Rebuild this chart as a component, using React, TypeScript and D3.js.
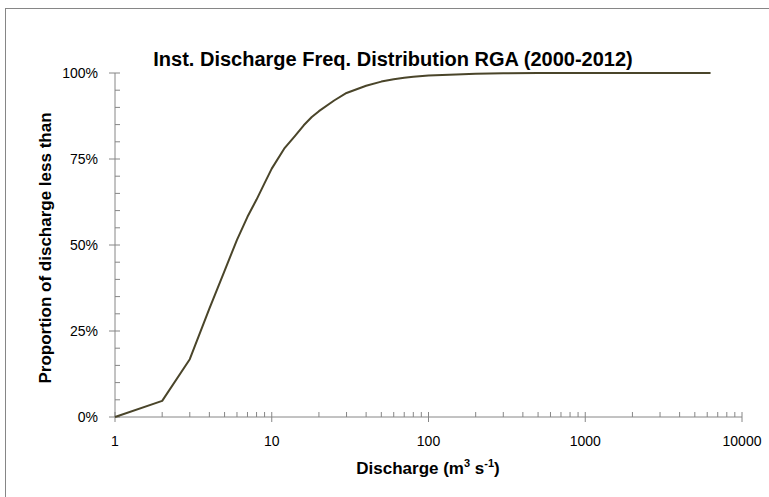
import * as d3 from "d3";

// discharge (m3/s) and cumulative proportion
const discharge = [1, 2, 3, 4, 5, 6, 7, 8, 9, 10, 12, 14, 16, 18, 20, 25, 30, 40, 50, 60, 70, 80, 100, 150, 200, 300, 500, 1000, 2000, 6300];
const proportion = [0, 0.047, 0.168, 0.315, 0.425, 0.515, 0.582, 0.632, 0.68, 0.722, 0.78, 0.816, 0.848, 0.872, 0.889, 0.92, 0.942, 0.963, 0.975, 0.982, 0.986, 0.989, 0.993, 0.996, 0.998, 0.999, 1, 1, 1, 1];

const xTicks = [1, 10, 100, 1000, 10000];
const yTicks = [0, 0.25, 0.5, 0.75, 1];

const App = () => {
  const width = 769;
  const height = 497;
  const margin = { top: 73, right: 27, bottom: 80, left: 115 };
  const axisColor = "#868686";
  const font = "'Liberation Sans', Arial, sans-serif";

  const x = d3.scaleLog().domain([1, 10000]).range([margin.left, width - margin.right]);
  const y = d3.scaleLinear().domain([0, 1]).range([height - margin.bottom, margin.top]);

  const line = d3
    .line<number>()
    .x((_, i) => x(discharge[i]))
    .y((d) => y(d));

  // minor ticks: 2..9 in each decade, every 5% on y
  const xMinor: number[] = [];
  for (let dec = 1; dec < 10000; dec *= 10) {
    for (let k = 2; k <= 9; k++) xMinor.push(dec * k);
  }
  const yMinor = d3.range(0, 1.0001, 0.05).filter((v) => Math.round(v * 100) % 25 !== 0);

  const y0 = y(0);
  const x0 = x(1);

  return (
    <svg width={width} height={height} style={{ position: "absolute", left: 0, top: 0 }} fontFamily={font}>
      <rect x={0} y={0} width={width} height={height} fill="#fff" />
      <rect x={5.5} y={8.5} width={width + 20} height={height + 20} fill="none" stroke={axisColor} />

      <text x={393} y={66} textAnchor="middle" fontSize={20} fontWeight="bold" fill="#000">
        Inst. Discharge Freq. Distribution RGA (2000-2012)
      </text>

      {/* y axis */}
      <line x1={x0} x2={x0} y1={y(1)} y2={y0} stroke={axisColor} />
      {yMinor.map((v) => (
        <line key={"ym" + v} x1={x0} x2={x0 + 5} y1={y(v)} y2={y(v)} stroke={axisColor} />
      ))}
      {yTicks.map((v) => (
        <g key={"y" + v}>
          <line x1={x0 - 6} x2={x0 + 5} y1={y(v)} y2={y(v)} stroke={axisColor} />
          <text x={x0 - 17} y={y(v)} dy="0.35em" textAnchor="end" fontSize={14} fill="#000">
            {d3.format(".0%")(v)}
          </text>
        </g>
      ))}

      {/* x axis */}
      <line x1={x0} x2={x(10000)} y1={y0} y2={y0} stroke={axisColor} />
      {xMinor.map((v) => (
        <line key={"xm" + v} x1={x(v)} x2={x(v)} y1={y0 - 5} y2={y0} stroke={axisColor} />
      ))}
      {xTicks.map((v) => (
        <g key={"x" + v}>
          <line x1={x(v)} x2={x(v)} y1={y0 - 5} y2={y0 + 5} stroke={axisColor} />
          <text x={x(v)} y={y0 + 29} textAnchor="middle" fontSize={14} fill="#000">
            {v}
          </text>
        </g>
      ))}

      <path d={line(proportion) ?? ""} fill="none" stroke="#4a452a" strokeWidth={2} strokeLinejoin="round" />

      <text x={428} y={474} textAnchor="middle" fontSize={17} fontWeight="bold" fill="#000">
        Discharge (m
        <tspan dy={-7} fontSize={11}>3</tspan>
        <tspan dy={7}> s</tspan>
        <tspan dy={-7} fontSize={11}>-1</tspan>
        <tspan dy={7}>)</tspan>
      </text>

      <text
        transform={`translate(51,${(y(0) + y(1)) / 2 + 3}) rotate(-90)`}
        textAnchor="middle"
        fontSize={17}
        fontWeight="bold"
        fill="#000"
      >
        Proportion of discharge less than
      </text>
    </svg>
  );
};

export default App;
